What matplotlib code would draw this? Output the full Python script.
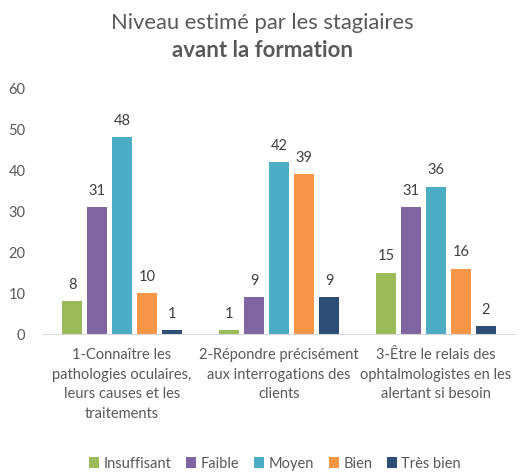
import numpy as np
import matplotlib.pyplot as plt

plt.rcParams['font.family'] = ['Lato', 'DejaVu Sans']

# categories / series
categories = ['1-Connaître les\npathologies oculaires,\nleurs causes et les\ntraitements',
              '2-Répondre précisément\naux interrogations des\nclients',
              '3-Être le relais des\nophtalmologistes en les\nalertant si besoin']
series = ['Insuffisant', 'Faible', 'Moyen', 'Bien', 'Très bien']
insuffisant = [8, 1, 15]
faible = [31, 9, 31]
moyen = [48, 42, 36]
bien = [10, 39, 16]
tres_bien = [1, 9, 2]
colors = ['#9BBB59', '#8064A2', '#4BACC6', '#F79646', '#2C4D75']

values = [insuffisant, faible, moyen, bien, tres_bien]
grey = '#595959'

fig = plt.figure(figsize=(5.24, 4.74), dpi=100)
ax = fig.add_axes([0.083, 0.295, 0.899, 0.519])

x = np.arange(len(categories))
step = 0.159
w = 0.127
for i, (name, vals, c) in enumerate(zip(series, values, colors)):
    pos = x + (i - 2) * step
    bars = ax.bar(pos, vals, w, color=c, label=name)
    for b, v in zip(bars, vals):
        ax.text(b.get_x() + b.get_width() / 2, v + 2.3, str(v),
                ha='center', va='bottom', fontsize=10.5, color='#404040')

ax.set_xlim(-0.5, 2.5)
ax.set_ylim(0, 60)
ax.set_yticks(range(0, 61, 10))
ax.set_xticks(x)
ax.set_xticklabels(categories, fontsize=10.5, color=grey, linespacing=1.5)
ax.tick_params(axis='y', labelsize=10.5, labelcolor=grey, length=0, pad=13)
ax.tick_params(axis='x', length=0, pad=10)
for s in ['top', 'right', 'left']:
    ax.spines[s].set_visible(False)
ax.spines['bottom'].set_color('#D9D9D9')

fig.text(0.5, 0.952, 'Niveau estimé par les stagiaires', ha='center', va='center',
         fontsize=15.8, color=grey)
fig.text(0.5, 0.893, 'avant la formation', ha='center', va='center',
         fontsize=16, color=grey, fontweight='bold')

fig.legend(loc='center', bbox_to_anchor=(0.525, 0.022), ncol=5, frameon=False,
           fontsize=10.5, handlelength=0.7, handleheight=0.7, columnspacing=1.0,
           handletextpad=0.3, labelcolor=grey)

fig.savefig('out.png', dpi=100)
